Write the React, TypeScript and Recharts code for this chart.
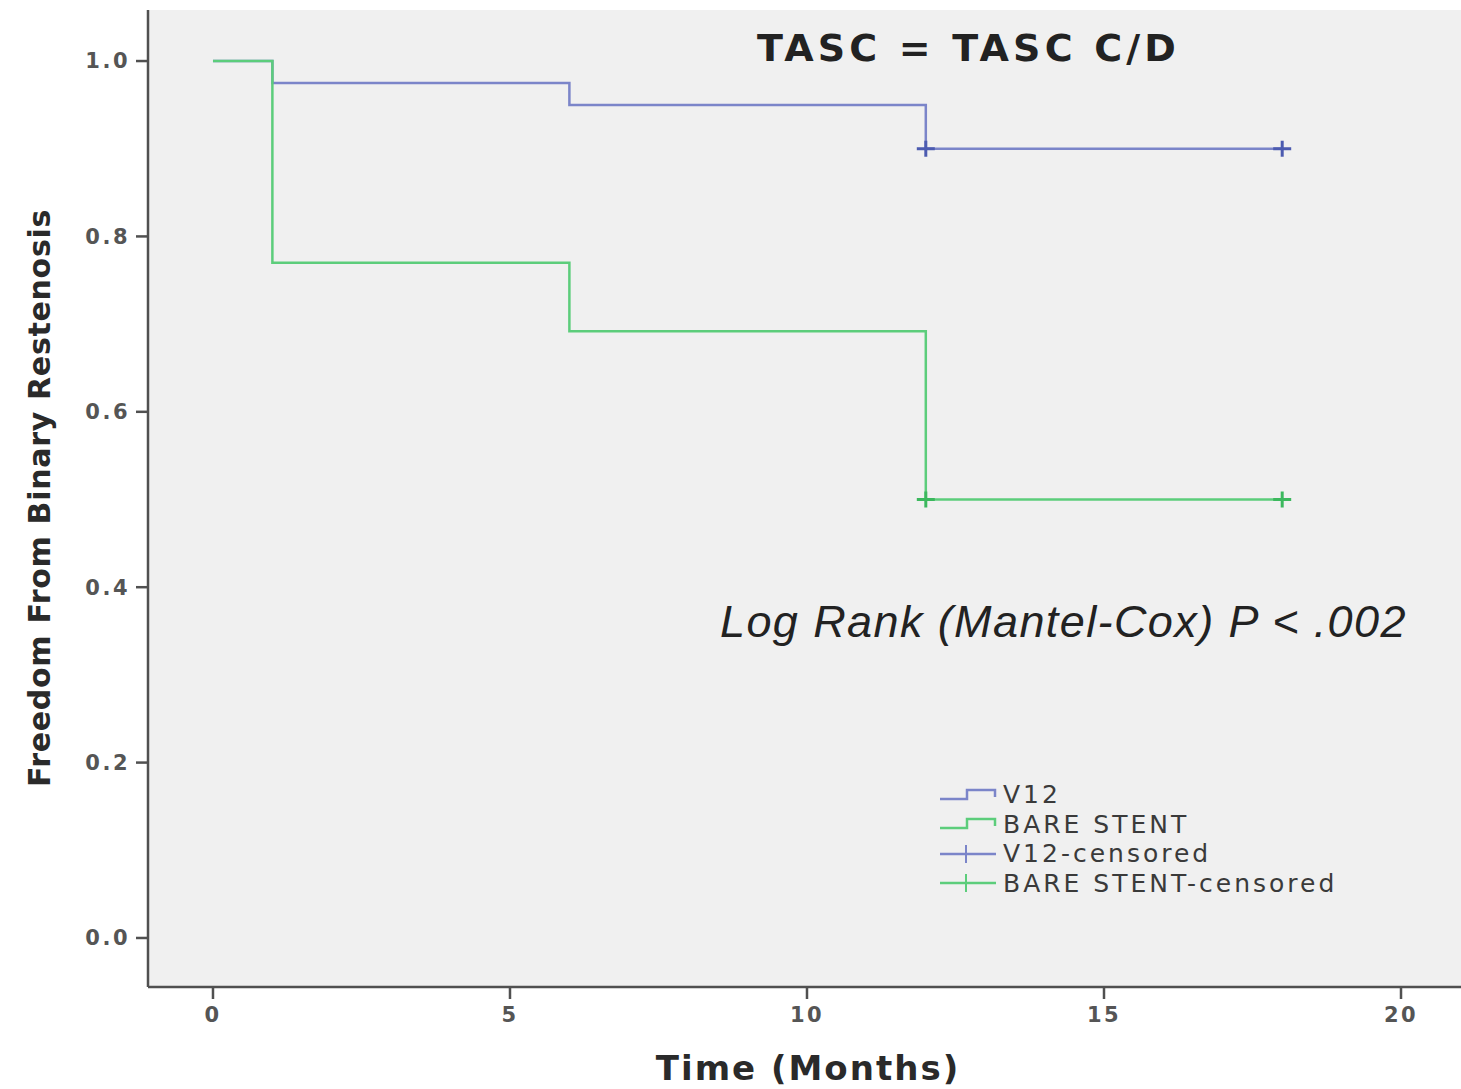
import { ComposedChart, Line, Scatter, XAxis, YAxis, CartesianGrid, Legend } from 'recharts'

// Kaplan-Meier step data (months -> survival)
const months = [0, 1, 6, 12, 18]
const v12Survival = [1.0, 0.975, 0.95, 0.9, 0.9]
const bareSurvival = [1.0, 0.77, 0.692, 0.5, 0.5]

// censored observations
const v12CensoredMonths = [12, 18]
const v12CensoredSurvival = [0.9, 0.9]
const bareCensoredMonths = [12, 18]
const bareCensoredSurvival = [0.5, 0.5]

const xTicks = [0, 5, 10, 15, 20]
const yTicks = [0, 0.2, 0.4, 0.6, 0.8, 1.0]

const BLUE = '#7b85c9'
const BLUE_DARK = '#4c5bb0'
const GREEN = '#5ccd7b'
const GREEN_DARK = '#3cb85e'
const AXIS = '#505050'
const FONT = '"DejaVu Sans", Verdana, sans-serif'

const v12Data = months.map((t, i) => ({ t, s: v12Survival[i] }))
const bareData = months.map((t, i) => ({ t, s: bareSurvival[i] }))
const v12Censored = v12CensoredMonths.map((t, i) => ({ t, s: v12CensoredSurvival[i] }))
const bareCensored = bareCensoredMonths.map((t, i) => ({ t, s: bareCensoredSurvival[i] }))

const tickStyle = { fill: '#555', fontSize: 21, fontFamily: FONT, fontWeight: 'bold', letterSpacing: 2.5 }

const makePlus = (color: string) => (props: any) => {
  const { cx, cy } = props
  if (cx == null || cy == null) return <g />
  return (
    <g stroke={color} strokeWidth={3}>
      <line x1={cx - 9} y1={cy} x2={cx + 9} y2={cy} />
      <line x1={cx} y1={cy - 8} x2={cx} y2={cy + 8} />
    </g>
  )
}

function StepIcon({ color }: { color: string }) {
  return (
    <svg width={58} height={22} style={{ display: 'block' }}>
      <polyline points="0,15 27,15 27,6 55,6 55,13" fill="none" stroke={color} strokeWidth={2.5} />
    </svg>
  )
}

function CensorIcon({ color }: { color: string }) {
  return (
    <svg width={58} height={22} style={{ display: 'block' }}>
      <line x1={0} y1={11} x2={56} y2={11} stroke={color} strokeWidth={2.5} />
      <line x1={26} y1={2} x2={26} y2={20} stroke={color} strokeWidth={2} />
    </svg>
  )
}

const legendRows = [
  { label: 'V12', icon: <StepIcon color={BLUE} /> },
  { label: 'BARE STENT', icon: <StepIcon color={GREEN} /> },
  { label: 'V12-censored', icon: <CensorIcon color={BLUE} /> },
  { label: 'BARE STENT-censored', icon: <CensorIcon color={GREEN} /> },
]

function KmLegend() {
  return (
    <div style={{ fontFamily: FONT, fontSize: 25, color: '#3a3a3a', letterSpacing: 3 }}>
      {legendRows.map((r) => (
        <div key={r.label} style={{ display: 'flex', alignItems: 'center', height: 29.5, whiteSpace: 'nowrap' }}>
          {r.icon}
          <span style={{ marginLeft: 5, lineHeight: '29px' }}>{r.label}</span>
        </div>
      ))}
    </div>
  )
}

export default function App() {
  return (
    <div style={{ position: 'absolute', left: 0, top: 0, width: 1461, height: 1089, overflow: 'hidden', background: '#fff' }}>
      <ComposedChart width={1461} height={1089} margin={{ top: 10, right: 0, bottom: 0, left: 0 }}>
        <CartesianGrid fill="#f0f0f0" horizontal={false} vertical={false} />
        <XAxis
          xAxisId="top"
          orientation="top"
          type="number"
          domain={[-1.094, 21.01]}
          allowDataOverflow
          height={0}
          tick={false}
          tickLine={false}
          axisLine={{ stroke: '#9a9a9a', strokeWidth: 3 }}
        />
        <XAxis
          dataKey="t"
          type="number"
          domain={[-1.094, 21.01]}
          allowDataOverflow
          ticks={xTicks}
          height={102}
          tick={tickStyle}
          tickSize={12}
          tickMargin={8}
          tickLine={{ stroke: AXIS, strokeWidth: 2.5 }}
          axisLine={{ stroke: AXIS, strokeWidth: 2.5 }}
          label={{
            content: () => (
              <text x={808} y={1080} textAnchor="middle" fontFamily={FONT} fontWeight="bold" fontSize={34} fill="#2a2a2a" letterSpacing={2}>
                Time (Months)
              </text>
            ),
          }}
        />
        <YAxis
          type="number"
          domain={[-0.0559, 1.0582]}
          allowDataOverflow
          ticks={yTicks}
          width={148}
          tickFormatter={(v: number) => v.toFixed(1)}
          tick={tickStyle}
          tickSize={12}
          tickMargin={6}
          tickLine={{ stroke: AXIS, strokeWidth: 2.5 }}
          axisLine={{ stroke: AXIS, strokeWidth: 2.5 }}
          label={{
            content: () => (
              <text
                x={50}
                y={498}
                transform="rotate(-90 50 498)"
                textAnchor="middle"
                fontFamily={FONT}
                fontWeight="bold"
                fontSize={30}
                fill="#2a2a2a"
                letterSpacing={0.7}
              >
                Freedom From Binary Restenosis
              </text>
            ),
          }}
        />
        <Line data={v12Data} dataKey="s" type="stepAfter" stroke={BLUE} strokeWidth={2.5} dot={false} isAnimationActive={false} name="V12" />
        <Line data={bareData} dataKey="s" type="stepAfter" stroke={GREEN} strokeWidth={2.5} dot={false} isAnimationActive={false} name="BARE STENT" />
        <Scatter data={v12Censored} dataKey="s" shape={makePlus(BLUE_DARK)} isAnimationActive={false} name="V12-censored" />
        <Scatter data={bareCensored} dataKey="s" shape={makePlus(GREEN_DARK)} isAnimationActive={false} name="BARE STENT-censored" />
        <Legend
          layout="vertical"
          align="center"
          verticalAlign="middle"
          content={() => <KmLegend />}
          wrapperStyle={{ position: 'absolute', left: 940, top: 780, width: 460, bottom: 'auto' }}
        />
      </ComposedChart>
      <div
        style={{
          position: 'absolute',
          left: 757,
          top: 26,
          fontFamily: FONT,
          fontWeight: 'bold',
          fontSize: 38,
          color: '#222',
          whiteSpace: 'nowrap',
          letterSpacing: 4.2,
        }}
      >
        TASC = TASC C/D
      </div>
      <div
        style={{
          position: 'absolute',
          left: 720,
          top: 596,
          fontFamily: '"Liberation Sans", Arial, sans-serif',
          fontStyle: 'italic',
          fontSize: 45,
          color: '#222',
          whiteSpace: 'nowrap',
          letterSpacing: 1.4,
        }}
      >
        Log Rank (Mantel-Cox) P &lt; .002
      </div>
    </div>
  )
}
